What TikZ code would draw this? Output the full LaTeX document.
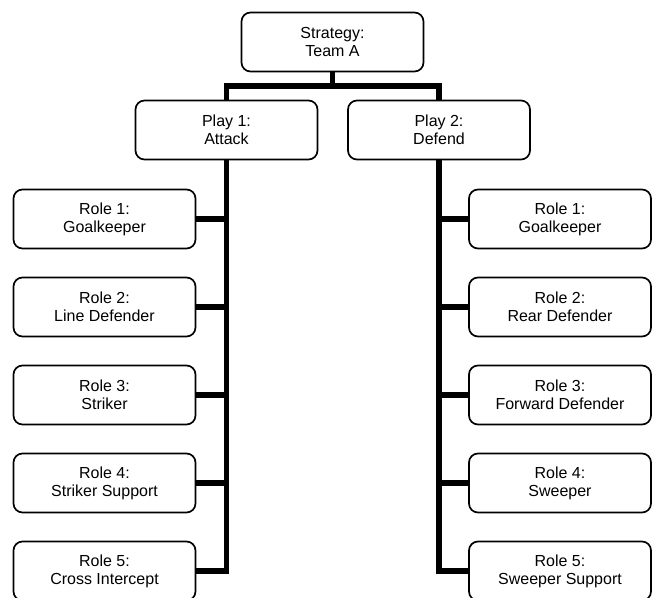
\documentclass[tikz,border=0pt]{standalone}
\usepackage{fontspec}
\setmainfont{Liberation Sans}
\begin{document}
\begin{tikzpicture}[x=1pt,y=1pt,
  box/.style={draw=black, line width=1.7pt, rounded corners=9pt, fill=white,
    minimum width=182pt, minimum height=59pt, inner sep=0pt, align=center,
    font=\fontsize{16}{18}\selectfont},
  conn/.style={draw=black, line width=5.5pt, line join=miter}]
\useasboundingbox (0,0) rectangle (655,-597);
\node[box] (top) at (332.5,-42) {Strategy:\\Team A};
\node[box] (p1) at (226.5,-130) {Play 1:\\Attack};
\node[box] (p2) at (439,-130) {Play 2:\\Defend};
\node[box] (l1) at (104.5,-219) {Role 1:\\Goalkeeper};
\node[box] (l2) at (104.5,-307) {Role 2:\\Line Defender};
\node[box] (l3) at (104.5,-395) {Role 3:\\Striker};
\node[box] (l4) at (104.5,-483) {Role 4:\\Striker Support};
\node[box] (l5) at (104.5,-571) {Role 5:\\Cross Intercept};
\node[box] (r1) at (560,-219) {Role 1:\\Goalkeeper};
\node[box] (r2) at (560,-307) {Role 2:\\Rear Defender};
\node[box] (r3) at (560,-395) {Role 3:\\Forward Defender};
\node[box] (r4) at (560,-483) {Role 4:\\Sweeper};
\node[box] (r5) at (560,-571) {Role 5:\\Sweeper Support};
\coordinate (j) at (332.5,-86);
\draw[conn] (top.south) -- (j);
\draw[conn] (p1.north) |- (j) -| (p2.north);
\draw[conn] (p1.south) |- (l5.east);
\foreach \n in {l1,l2,l3,l4} \draw[conn] (\n.east) -- (\n.east -| p1.south);
\draw[conn] (p2.south) |- (r5.west);
\foreach \n in {r1,r2,r3,r4} \draw[conn] (\n.west) -- (\n.west -| p2.south);
\end{tikzpicture}
\end{document}
